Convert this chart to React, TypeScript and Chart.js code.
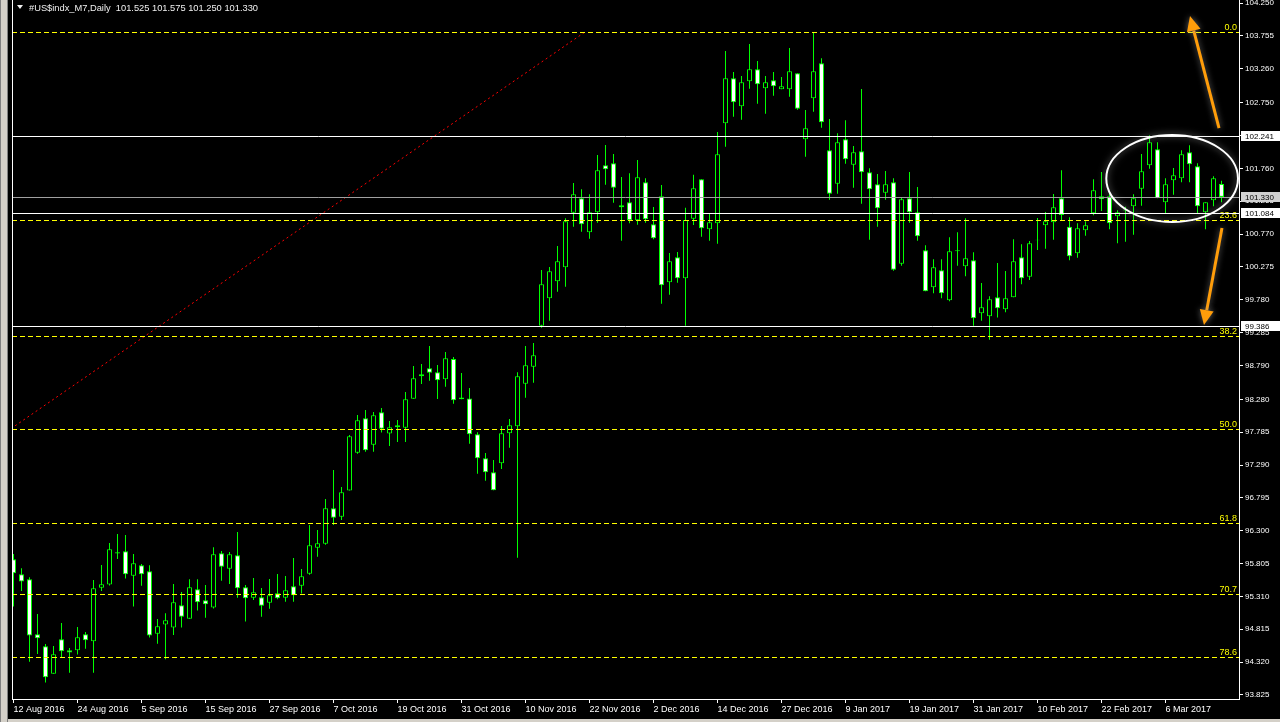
import React, { useEffect, useRef } from "react";
import { Chart, registerables } from "chart.js";

Chart.register(...registerables);

// ---------- DATA ----------
const symbolTitle = "#US$indx_M7,Daily";
const headerQuote = ["101.525", "101.575", "101.250", "101.330"];

const opens = [
  95.869, 95.643, 95.568, 94.739, 94.558, 94.146, 94.664, 94.498, 94.498, 94.739,
  94.634, 95.442, 95.488, 95.955, 95.990, 95.623, 95.779, 95.688, 94.749, 94.885,
  94.840, 95.176, 94.975, 95.417, 95.251, 95.141, 95.959, 95.728, 95.929, 95.447,
  95.291, 95.296, 95.216, 95.357, 95.291, 95.462, 95.472, 95.653, 96.045, 96.105,
  96.637, 96.512, 96.904, 97.476, 97.994, 97.597, 98.084, 97.763, 97.888, 97.853,
  98.290, 98.656, 98.747, 98.686, 98.581, 98.887, 98.279, 98.294, 97.752, 97.390,
  97.179, 97.315, 97.767, 97.873, 98.516, 98.772, 99.390, 99.801, 100.058, 100.269,
  101.093, 101.309, 100.796, 101.098, 101.806, 101.836, 101.173, 101.248, 100.977, 101.549,
  100.917, 101.339, 100.043, 100.419, 100.103, 101.002, 101.595, 100.841, 100.932, 102.439,
  103.117, 102.695, 103.071, 103.252, 102.966, 103.087, 102.951, 102.951, 103.192, 102.197,
  102.815, 103.343, 102.032, 101.530, 102.198, 101.816, 102.017, 101.700, 101.519, 101.394,
  101.550, 100.324, 101.308, 101.097, 100.525, 99.967, 100.224, 99.771, 100.510, 100.284,
  100.374, 99.576, 99.531, 99.817, 99.636, 99.817, 100.419, 100.128, 100.675, 100.901,
  100.947, 101.308, 100.881, 100.479, 100.826, 101.082, 101.338, 101.338, 101.037, 101.125,
  101.188, 101.454, 101.806, 102.047, 101.248, 101.580, 101.610, 102.001, 101.790, 101.097,
  101.278, 101.525,
];
const highs = [
  95.950, 95.734, 95.598, 95.046, 94.593, 94.563, 94.910, 94.533, 94.850, 94.774,
  95.558, 95.784, 96.115, 96.251, 96.236, 95.950, 95.799, 95.779, 94.970, 95.056,
  95.498, 95.377, 95.568, 95.568, 95.483, 96.050, 95.994, 95.979, 96.281, 95.482,
  95.588, 95.437, 95.572, 95.648, 95.618, 95.889, 95.723, 96.386, 96.311, 96.778,
  97.215, 96.959, 97.742, 98.044, 98.119, 98.089, 98.149, 97.953, 97.968, 98.390,
  98.782, 98.812, 99.083, 98.797, 98.993, 98.917, 98.676, 98.450, 97.782, 97.471,
  97.365, 97.878, 97.983, 98.686, 99.083, 99.129, 100.229, 100.274, 100.590, 101.007,
  101.540, 101.444, 101.369, 101.961, 102.112, 101.976, 101.630, 101.685, 101.886, 101.610,
  101.178, 101.509, 100.485, 100.500, 101.168, 101.665, 101.595, 101.082, 102.308, 103.529,
  103.212, 103.152, 103.634, 103.378, 103.152, 103.212, 103.137, 103.574, 103.192, 102.639,
  103.805, 103.418, 102.504, 102.288, 102.484, 102.097, 102.956, 101.761, 101.675, 101.720,
  101.610, 101.323, 101.705, 101.479, 100.600, 100.389, 100.389, 100.721, 100.796, 101.007,
  100.495, 100.033, 99.832, 100.334, 100.214, 100.691, 100.615, 100.665, 101.012, 101.102,
  101.374, 101.730, 101.022, 100.932, 100.962, 101.595, 101.705, 101.399, 101.127, 101.183,
  101.369, 101.976, 102.258, 102.152, 101.610, 101.765, 102.032, 102.107, 101.836, 101.248,
  101.640, 101.575,
];
const lows = [
  95.156, 95.392, 94.327, 94.443, 94.011, 94.146, 94.388, 94.161, 94.433, 94.523,
  94.161, 95.392, 95.473, 95.874, 95.578, 95.156, 95.472, 94.689, 94.598, 94.362,
  94.729, 94.840, 94.975, 95.096, 94.990, 95.126, 95.547, 95.497, 95.291, 94.930,
  95.256, 95.005, 95.125, 95.266, 95.231, 95.231, 95.352, 95.638, 95.909, 96.090,
  96.386, 96.462, 96.904, 97.461, 97.491, 97.491, 97.778, 97.577, 97.637, 97.637,
  98.290, 98.511, 98.561, 98.285, 98.471, 98.214, 98.279, 97.611, 97.159, 97.054,
  96.908, 97.230, 97.551, 95.894, 98.305, 98.531, 99.360, 99.465, 99.902, 99.977,
  100.882, 100.806, 100.701, 100.942, 101.514, 101.243, 100.670, 100.932, 100.912, 100.942,
  100.691, 99.721, 99.857, 100.038, 99.390, 100.907, 100.731, 100.670, 100.625, 102.087,
  102.539, 102.494, 102.961, 102.735, 102.584, 102.855, 102.951, 102.840, 102.645, 101.936,
  102.614, 102.373, 101.288, 101.379, 101.831, 101.469, 101.228, 100.686, 100.881, 101.288,
  100.219, 100.294, 100.942, 100.671, 99.907, 99.877, 99.802, 99.756, 100.294, 100.133,
  99.390, 99.465, 99.179, 99.511, 99.591, 99.817, 100.012, 100.078, 100.530, 100.550,
  100.685, 100.982, 100.374, 100.414, 100.746, 101.052, 101.117, 100.841, 100.630, 100.655,
  100.761, 101.198, 101.755, 101.308, 101.082, 101.364, 101.549, 101.549, 101.082, 100.841,
  101.188, 101.250,
];
const closes = [
  95.658, 95.533, 94.719, 94.679, 94.091, 94.438, 94.483, 94.463, 94.694, 94.649,
  95.432, 95.493, 96.020, 95.975, 95.643, 95.809, 95.643, 94.719, 94.860, 94.950,
  95.221, 95.005, 95.447, 95.221, 95.191, 95.945, 95.758, 95.944, 95.432, 95.281,
  95.372, 95.171, 95.326, 95.281, 95.402, 95.326, 95.613, 96.080, 96.110, 96.637,
  96.497, 96.878, 97.722, 97.963, 97.511, 98.039, 97.838, 97.858, 97.858, 98.280,
  98.596, 98.626, 98.682, 98.566, 98.897, 98.264, 98.309, 97.752, 97.390, 97.179,
  96.908, 97.767, 97.888, 98.626, 98.792, 98.943, 100.013, 100.208, 100.359, 100.962,
  101.369, 100.917, 101.098, 101.730, 101.746, 101.469, 101.203, 100.977, 101.625, 100.992,
  100.706, 99.997, 100.359, 100.103, 100.982, 101.459, 100.856, 100.947, 101.971, 103.117,
  102.755, 103.056, 103.252, 103.026, 103.056, 102.996, 102.996, 103.222, 102.660, 102.363,
  103.222, 102.454, 101.379, 102.152, 101.896, 102.002, 101.700, 101.444, 101.158, 101.519,
  100.234, 101.293, 101.097, 100.736, 99.907, 100.269, 99.877, 100.510, 100.525, 100.404,
  99.500, 99.666, 99.786, 99.651, 99.802, 100.359, 100.103, 100.630, 100.685, 100.962,
  101.173, 101.057, 100.434, 100.856, 100.901, 101.429, 101.293, 100.932, 101.097, 101.140,
  101.308, 101.715, 102.152, 101.308, 101.519, 101.655, 101.971, 101.821, 101.188, 101.248,
  101.610, 101.330,
];

const dateLabels = [
  "12 Aug 2016", "24 Aug 2016", "5 Sep 2016", "15 Sep 2016", "27 Sep 2016",
  "7 Oct 2016", "19 Oct 2016", "31 Oct 2016", "10 Nov 2016", "22 Nov 2016",
  "2 Dec 2016", "14 Dec 2016", "27 Dec 2016", "9 Jan 2017", "19 Jan 2017",
  "31 Jan 2017", "10 Feb 2017", "22 Feb 2017", "6 Mar 2017",
];
const barsPerDateLabel = 8;

const yTickValues = [
  104.25, 103.755, 103.26, 102.75, 102.255, 101.76, 101.265, 100.77, 100.275,
  99.78, 99.285, 98.79, 98.28, 97.785, 97.29, 96.795, 96.3, 95.805, 95.31,
  94.815, 94.32, 93.825,
];
const yRange = [93.764, 104.297];
const xRange = [-0.1875, 153.1875];

// Fibonacci retracement object
const fibHigh = 103.815;
const fibLow = 91.841;
const fibLevels = [0, 23.6, 38.2, 50, 61.8, 70.7, 78.6];
const fibTrendX = [-72.3, 71.44];
const fibTrendY = [fibLow, fibHigh];

// horizontal lines
const levelLines = [102.241, 101.084, 99.386];
const bidPrice = 101.33;

// annotation objects (data units)
const ellipseX = [136.6, 153.06];
const ellipseY = [100.952, 102.263];
const arrowUpX = [150.69, 147.06];
const arrowUpY = [102.368, 104.056];
const arrowDownX = [151.06, 148.81];
const arrowDownY = [100.861, 99.4];

// ---------- STYLE ----------
const FONT = "'Liberation Sans', Arial, sans-serif";
const WICK = "#00ff00";
const FIB_COLOR = "#ffff00";
const ORANGE = "#ff9d0a";

function drawArrow(ctx: CanvasRenderingContext2D, x0: number, y0: number, x1: number, y1: number) {
  const ang = Math.atan2(y1 - y0, x1 - x0);
  const headLen = 15;
  const headHalf = 7;
  const bx = x1 - Math.cos(ang) * headLen;
  const by = y1 - Math.sin(ang) * headLen;
  ctx.beginPath();
  ctx.moveTo(x0, y0);
  ctx.lineTo(bx, by);
  ctx.stroke();
  ctx.beginPath();
  ctx.moveTo(x1, y1);
  ctx.lineTo(bx + Math.cos(ang + Math.PI / 2) * headHalf, by + Math.sin(ang + Math.PI / 2) * headHalf);
  ctx.lineTo(bx + Math.cos(ang - Math.PI / 2) * headHalf, by + Math.sin(ang - Math.PI / 2) * headHalf);
  ctx.closePath();
  ctx.fill();
}

const overlayPlugin = {
  id: "mt4overlay",
  afterDatasetsDraw(chart: any) {
    const { ctx, chartArea: ca, scales } = chart;
    const xs = scales.x;
    const ys = scales.y;
    ctx.save();
    ctx.beginPath();
    ctx.rect(ca.left, ca.top, ca.right - ca.left, ca.bottom - ca.top);
    ctx.clip();

    // fib levels
    ctx.lineWidth = 1;
    ctx.strokeStyle = FIB_COLOR;
    ctx.setLineDash([5, 3]);
    fibLevels.forEach((p) => {
      const price = fibHigh - (p / 100) * (fibHigh - fibLow);
      const y = Math.round(ys.getPixelForValue(price)) + 0.5;
      ctx.beginPath();
      ctx.moveTo(ca.left, y);
      ctx.lineTo(ca.right, y);
      ctx.stroke();
    });
    ctx.setLineDash([]);
    ctx.fillStyle = FIB_COLOR;
    ctx.font = `9px ${FONT}`;
    ctx.textAlign = "right";
    ctx.textBaseline = "alphabetic";
    fibLevels.forEach((p) => {
      const price = fibHigh - (p / 100) * (fibHigh - fibLow);
      const y = Math.round(ys.getPixelForValue(price));
      ctx.fillText(p.toFixed(1), ca.right - 2, y - 2);
    });

    // horizontal level lines
    ctx.strokeStyle = "#ffffff";
    levelLines.forEach((v) => {
      const y = Math.round(ys.getPixelForValue(v)) + 0.5;
      ctx.beginPath();
      ctx.moveTo(ca.left, y);
      ctx.lineTo(ca.right, y);
      ctx.stroke();
    });
    ctx.strokeStyle = "#a0a0a0";
    {
      const y = Math.round(ys.getPixelForValue(bidPrice)) + 0.5;
      ctx.beginPath();
      ctx.moveTo(ca.left, y);
      ctx.lineTo(ca.right, y);
      ctx.stroke();
    }

    // ellipse
    const ex0 = xs.getPixelForValue(ellipseX[0]);
    const ex1 = xs.getPixelForValue(ellipseX[1]);
    const ey0 = ys.getPixelForValue(ellipseY[1]);
    const ey1 = ys.getPixelForValue(ellipseY[0]);
    ctx.save();
    ctx.shadowColor = "rgba(190,190,190,0.7)";
    ctx.shadowBlur = 7;
    ctx.strokeStyle = "#ffffff";
    ctx.lineWidth = 2;
    ctx.beginPath();
    ctx.ellipse((ex0 + ex1) / 2, (ey0 + ey1) / 2, (ex1 - ex0) / 2, (ey1 - ey0) / 2, 0, 0, Math.PI * 2);
    ctx.stroke();
    ctx.restore();

    // arrows
    ctx.save();
    ctx.shadowColor = "rgba(170,170,170,0.6)";
    ctx.shadowBlur = 6;
    ctx.strokeStyle = ORANGE;
    ctx.fillStyle = ORANGE;
    ctx.lineWidth = 3;
    drawArrow(
      ctx,
      xs.getPixelForValue(arrowUpX[0]), ys.getPixelForValue(arrowUpY[0]),
      xs.getPixelForValue(arrowUpX[1]), ys.getPixelForValue(arrowUpY[1])
    );
    drawArrow(
      ctx,
      xs.getPixelForValue(arrowDownX[0]), ys.getPixelForValue(arrowDownY[0]),
      xs.getPixelForValue(arrowDownX[1]), ys.getPixelForValue(arrowDownY[1])
    );
    ctx.restore();

    ctx.restore();
  },
  afterDraw(chart: any) {
    const { ctx, chartArea: ca, scales, width, height } = chart;
    const ys = scales.y;
    ctx.save();
    // window frame bits
    ctx.fillStyle = "#d4d0c8";
    ctx.fillRect(0, 0, 8, height);
    ctx.fillStyle = "#808080";
    ctx.fillRect(0, 0, 1, height);
    ctx.fillRect(7, 0, 1, height);
    ctx.fillStyle = "#d4d0c8";
    ctx.fillRect(8, height - 3, width - 8, 3);
    // left border of the plot
    ctx.fillStyle = "#ffffff";
    ctx.fillRect(ca.left, 0, 1, ca.bottom + 1);

    // header
    ctx.fillStyle = "#f0f0f0";
    ctx.beginPath();
    ctx.moveTo(17, 5);
    ctx.lineTo(23, 5);
    ctx.lineTo(20, 9);
    ctx.closePath();
    ctx.fill();
    ctx.font = `9.3px ${FONT}`;
    ctx.textAlign = "left";
    ctx.textBaseline = "alphabetic";
    ctx.fillText(`${symbolTitle}  ${headerQuote.join(" ")}`, 29, 11);

    // price boxes on the axis
    const boxes: [number, string][] = [
      [levelLines[0], "#ffffff"],
      [bidPrice, "#d0d0d0"],
      [levelLines[1], "#ffffff"],
      [levelLines[2], "#ffffff"],
    ];
    ctx.font = `8px ${FONT}`;
    ctx.textBaseline = "middle";
    boxes.forEach(([v, bg]) => {
      const y = Math.round(ys.getPixelForValue(v));
      ctx.fillStyle = bg;
      ctx.fillRect(ca.right + 2, y - 5, width - ca.right - 2, 10);
      ctx.fillStyle = "#000000";
      ctx.fillText(v.toFixed(3), ca.right + 6, y + 0.5);
    });
    ctx.restore();
  },
};

export default function App() {
  const canvasRef = useRef<HTMLCanvasElement | null>(null);

  useEffect(() => {
    document.body.style.margin = "0";
    document.body.style.background = "#000";
    const canvas = canvasRef.current;
    if (!canvas) return;

    const idx = opens.map((_, i) => i);
    const wickData = idx.map((i) => ({ x: i, y: [lows[i], highs[i]] }));
    const bodyData = idx.map((i) => ({ x: i, y: [opens[i], closes[i]] }));
    const bodyColors = idx.map((i) => (closes[i] >= opens[i] ? "#000000" : "#ffffff"));

    const chart = new Chart(canvas, {
      type: "bar",
      data: {
        datasets: [
          {
            type: "bar",
            data: wickData as any,
            backgroundColor: WICK,
            borderWidth: 0,
            barThickness: 1,
            grouped: false,
            inflateAmount: 0,
            order: 3,
            clip: 0,
          } as any,
          {
            type: "bar",
            data: bodyData as any,
            backgroundColor: bodyColors,
            borderColor: WICK,
            borderWidth: 1,
            borderSkipped: false,
            barThickness: 5,
            grouped: false,
            inflateAmount: 0,
            order: 2,
            clip: 0,
          } as any,
          {
            type: "line",
            data: fibTrendX.map((x, i) => ({ x, y: fibTrendY[i] })) as any,
            borderColor: "#ff0000",
            borderWidth: 1,
            borderDash: [2, 3],
            pointRadius: 0,
            order: 1,
            clip: 0,
          } as any,
        ],
      },
      options: {
        responsive: false,
        devicePixelRatio: 1,
        animation: false,
        events: [],
        layout: { padding: { left: 12, top: 0, right: 0, bottom: 0 } },
        plugins: { legend: { display: false }, tooltip: { enabled: false } },
        scales: {
          x: {
            type: "linear",
            offset: false,
            min: xRange[0],
            max: xRange[1],
            afterBuildTicks: (scale: any) => {
              scale.ticks = dateLabels.map((_, i) => ({ value: i * barsPerDateLabel }));
            },
            afterFit: (scale: any) => {
              scale.height = 23;
              scale.paddingLeft = 0;
              scale.paddingRight = 0;
            },
            ticks: {
              autoSkip: false,
              maxRotation: 0,
              minRotation: 0,
              align: "start",
              padding: 1,
              color: "#ffffff",
              font: { family: FONT, size: 9 },
              callback: (_v: any, i: number) => dateLabels[i] ?? "",
            },
            grid: {
              offset: false,
              drawOnChartArea: false,
              drawTicks: true,
              tickLength: 4,
              color: "#ffffff",
            },
            border: { display: true, color: "#ffffff", width: 1 },
          },
          y: {
            type: "linear",
            position: "right",
            min: yRange[0],
            max: yRange[1],
            afterBuildTicks: (scale: any) => {
              scale.ticks = yTickValues.map((v) => ({ value: v }));
            },
            afterFit: (scale: any) => {
              scale.width = 41;
              scale.paddingTop = 0;
              scale.paddingBottom = 0;
            },
            ticks: {
              autoSkip: false,
              padding: 2,
              color: "#ffffff",
              font: { family: FONT, size: 8 },
              callback: (v: any) => Number(v).toFixed(3),
            },
            grid: {
              drawOnChartArea: false,
              drawTicks: true,
              tickLength: 4,
              color: "#ffffff",
            },
            border: { display: true, color: "#ffffff", width: 1 },
          },
        },
      },
      plugins: [overlayPlugin],
    });

    return () => chart.destroy();
  }, []);

  return (
    <canvas
      ref={canvasRef}
      width={1280}
      height={722}
      style={{ display: "block", width: 1280, height: 722, background: "#000" }}
    />
  );
}
